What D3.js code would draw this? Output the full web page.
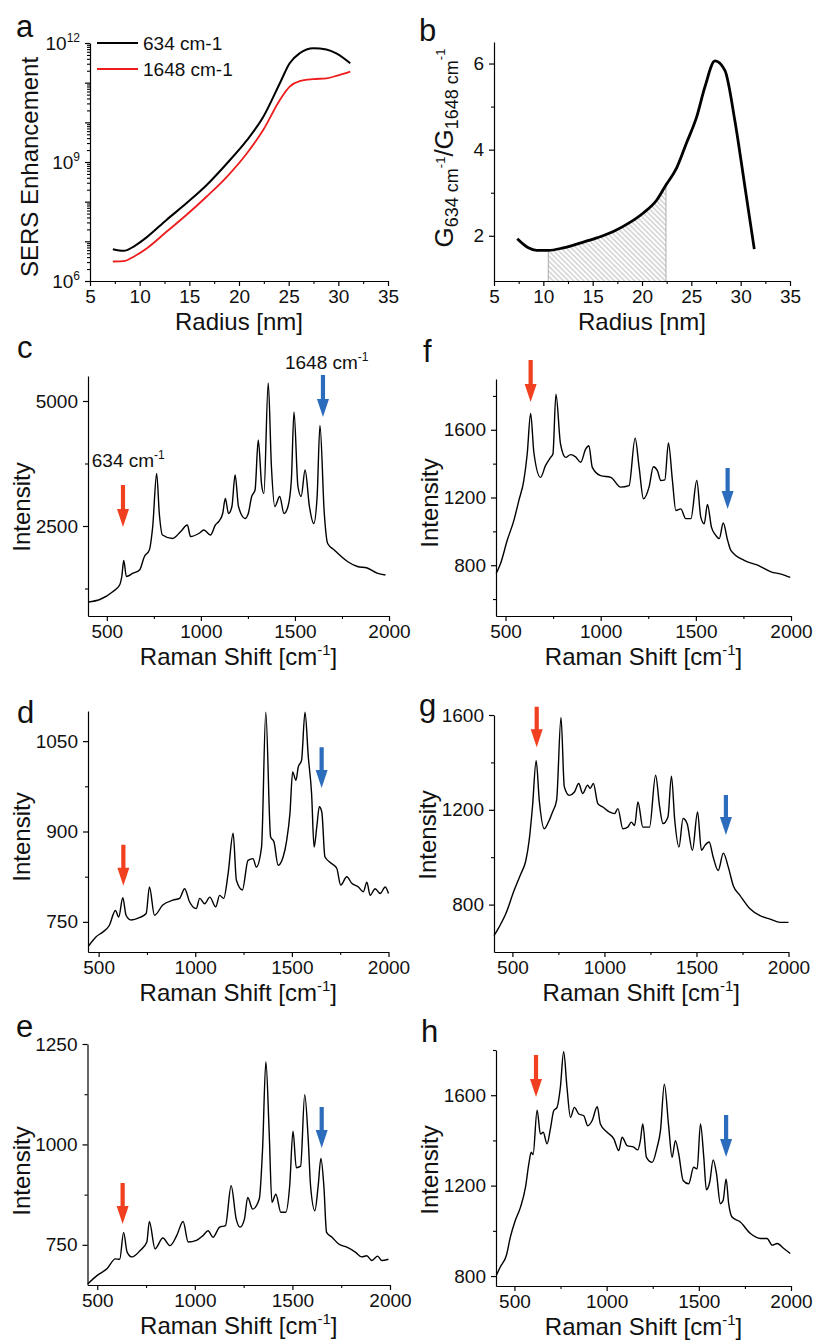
<!DOCTYPE html>
<html>
<head>
<meta charset="utf-8">
<script src="https://cdn.jsdelivr.net/npm/d3@7"></script>
<style>
  body { margin: 0; background: #fff; }
  text { font-family: "Liberation Sans", Arial, sans-serif; }
</style>
</head>
<body>
<svg id="fig" width="813" height="1343"></svg>
<script>
// ---------- data ----------
// panel a: SERS enhancement vs radius
var radiusA = [7.3, 8.4, 9.4, 10.7, 12.7, 14.7, 16.75, 18.8, 20.8, 22.45, 24.1, 25.1, 26.1, 27.5, 28.8, 29.8, 31.2];
var sers634 = [6.3e6, 5.75e6, 7.4e6, 1.26e7, 3.47e7, 9.1e7, 2.63e8, 9.3e8, 3.55e9, 1.38e10, 9.5e10, 3.1e11, 5.5e11, 7.4e11, 6.9e11, 5.5e11, 3.1e11];
var sers1648 = [3.1e6, 3.16e6, 4.1e6, 6.6e6, 1.74e7, 4.6e7, 1.35e8, 4.3e8, 1.66e9, 6.5e9, 3.6e10, 7.9e10, 1.1e11, 1.23e11, 1.29e11, 1.48e11, 1.9e11];
var legendA = ["634 cm-1", "1648 cm-1"];

// panel b: ratio G634/G1648 vs radius
var radiusB = [7.36, 8.48, 9.32, 10.5, 12.02, 13.71, 15.4, 17.1, 18.78, 20.13, 21.5, 22.43, 23.5, 24.5, 25.54, 26.38, 27.4, 28.4, 29.4, 30.43, 31.38];
var ratioB = [1.93, 1.72, 1.66, 1.66, 1.72, 1.83, 1.95, 2.10, 2.31, 2.53, 2.83, 3.18, 3.57, 4.15, 4.76, 5.46, 6.06, 5.84, 4.69, 3.14, 1.69];
var hatchRange = [10.5, 22.43];

// spectra [Raman shift, intensity]
var specC = [[402,980],[463,1030],[533,1190],[568,1320],[580,1500],[590,1810],[604,1490],[639,1556],[674,1620],[700,1890],[726,2020],[744,2490],[765,3550],[779,2750],[796,2320],[849,2250],[893,2390],[928,2520],[945,2290],[989,2350],[1016,2420],[1051,2320],[1077,2520],[1095,2590],[1116,2750],[1130,3050],[1147,2750],[1165,2890],[1182,3520],[1200,2890],[1235,2650],[1252,2750],[1270,3090],[1288,3220],[1305,4220],[1323,3320],[1335,3150],[1358,5360],[1375,3690],[1393,2890],[1419,3090],[1442,2750],[1463,2890],[1481,3420],[1495,4780],[1516,3290],[1533,3090],[1554,3620],[1577,2890],[1600,2550],[1618,3090],[1633,4510],[1656,2750],[1674,2150],[1709,2020],[1779,1790],[1832,1690],[1884,1660],[1937,1556],[1981,1520]];
var specF = [[451,751],[474,810],[509,947],[544,1065],[570,1182],[596,1300],[614,1457],[632,1696],[649,1466],[684,1319],[710,1388],[737,1437],[749,1457],[765,1810],[789,1516],[816,1437],[842,1453],[868,1440],[895,1408],[921,1486],[938,1506],[956,1378],[1000,1329],[1053,1319],[1105,1261],[1149,1270],[1181,1551],[1202,1378],[1225,1192],[1254,1261],[1277,1382],[1298,1359],[1316,1300],[1337,1304],[1356,1522],[1377,1300],[1395,1123],[1421,1133],[1447,1075],[1474,1075],[1505,1300],[1526,1084],[1544,1045],[1561,1159],[1582,1025],[1605,976],[1623,957],[1644,1049],[1667,947],[1684,888],[1754,829],[1825,800],[1895,761],[1947,747],[1996,728]];
var specD = [[448,710],[486,725],[521,733],[555,744],[587,769],[604,758],[625,790],[642,761],[668,753],[711,757],[746,764],[763,808],[789,761],[832,778],[884,786],[919,789],[945,805],[971,783],[1005,772],[1023,789],[1049,780],[1075,791],[1106,775],[1126,794],[1147,789],[1170,830],[1196,897],[1213,819],[1244,803],[1273,852],[1299,855],[1316,841],[1343,874],[1365,1098],[1390,891],[1407,883],[1429,844],[1455,858],[1473,885],[1490,930],[1504,999],[1521,985],[1533,1007],[1550,1018],[1568,1098],[1585,1024],[1602,963],[1615,874],[1629,908],[1642,941],[1655,932],[1671,858],[1697,849],[1732,839],[1753,811],[1784,825],[1810,814],[1844,808],[1870,800],[1888,816],[1905,794],[1931,805],[1957,797],[1983,808],[2000,797]];
var specG = [[400,669],[427,704],[464,761],[509,859],[546,930],[573,986],[591,1071],[609,1212],[629,1407],[646,1240],[673,1120],[700,1156],[718,1191],[740,1240],[764,1590],[782,1297],[809,1261],[837,1275],[860,1311],[882,1269],[909,1304],[922,1290],[940,1311],[964,1226],[991,1212],[1027,1191],[1055,1184],[1073,1205],[1100,1120],[1127,1127],[1146,1148],[1164,1134],[1182,1233],[1209,1127],[1245,1127],[1278,1346],[1300,1212],[1318,1142],[1345,1170],[1364,1342],[1382,1156],[1405,1043],[1427,1163],[1449,1142],[1478,1029],[1506,1191],[1527,1029],[1546,1050],[1569,1064],[1591,1000],[1618,944],[1646,1017],[1673,958],[1700,880],[1737,838],[1791,782],[1845,753],[1900,739],[1955,725],[2000,725]];
var specE = [[452,653],[500,674],[551,691],[593,715],[615,714],[635,781],[653,732],[678,720],[720,736],[754,757],[767,808],[796,740],[836,767],[873,748],[907,773],[940,808],[966,757],[1008,761],[1042,773],[1068,785],[1093,769],[1127,794],[1157,798],[1186,897],[1212,814],[1232,794],[1254,814],[1271,868],[1296,839],[1330,864],[1347,988],[1364,1206],[1381,1029],[1395,856],[1415,876],[1441,831],[1466,831],[1486,897],[1503,1033],[1520,942],[1542,946],[1563,1124],[1581,1012],[1593,897],[1615,835],[1632,897],[1646,965],[1661,897],[1675,781],[1703,769],[1737,752],[1779,744],[1822,732],[1856,720],[1881,723],[1907,711],[1937,722],[1958,711],[1992,714]];
var specH = [[402,804],[424,841],[457,893],[478,973],[505,1047],[533,1105],[560,1193],[578,1296],[591,1348],[601,1337],[623,1534],[641,1428],[656,1436],[677,1385],[695,1451],[713,1531],[731,1546],[749,1634],[767,1792],[785,1634],[804,1502],[825,1546],[849,1517],[876,1509],[898,1465],[921,1487],[949,1549],[966,1473],[1003,1436],[1039,1407],[1066,1355],[1084,1414],[1111,1377],[1147,1370],[1169,1358],[1183,1399],[1196,1473],[1216,1325],[1247,1303],[1274,1370],[1292,1443],[1313,1649],[1337,1458],[1355,1325],[1373,1399],[1391,1340],[1415,1223],[1445,1208],[1472,1281],[1491,1274],[1509,1473],[1527,1325],[1541,1182],[1559,1215],[1578,1314],[1596,1252],[1617,1120],[1632,1135],[1648,1230],[1662,1120],[1680,1061],[1725,1039],[1780,988],[1834,966],[1870,966],[1898,937],[1925,944],[1961,922],[1996,900]];

// arrows: [shift, top intensity, tip intensity]
var redArrows = { c: [586, 3320, 2480], f: [632, 2012, 1764], d: [628, 878, 810], g: [632, 1635, 1464], e: [630, 904, 802], h: [617, 1778, 1592] };
var blueArrows = { c: [1649, 5520, 4680], f: [1667, 1374, 1132], d: [1654, 1040, 972], g: [1660, 1262, 1094], e: [1650, 1093, 991], h: [1648, 1512, 1327] };
// peak labels in panel c: [text, shift, intensity]
var peakLabels = [["634 cm", 420, 3686], ["1648 cm", 1447, 5634]];

var shiftMajor = [500, 1000, 1500, 2000];
var shiftMinor = [750, 1250, 1750];
var radiusMajor = [5, 10, 15, 20, 25, 30, 35];
var radiusMinor = [7.5, 12.5, 17.5, 22.5, 27.5, 32.5];

// ---------- drawing ----------
var FONT = '"Liberation Sans", Arial, sans-serif';
var RED = "#f1401f", BLUE = "#2c6cbc";
var svg = d3.select("#fig");

function styleAxis(sel) {
  sel.attr("font-family", FONT).attr("font-size", 19);
  sel.selectAll("path.domain").attr("stroke-width", 1.2);
  sel.selectAll(".tick line").attr("stroke-width", 1.2);
  sel.selectAll(".tick text").attr("fill", "#111");
}

function minorAxis(g, axisFn, scale, values, transform) {
  g.append("g").attr("transform", transform)
    .call(axisFn(scale).tickValues(values).tickSize(3).tickFormat(function () { return ""; }))
    .call(function (s) { s.select(".domain").remove(); s.selectAll("line").attr("stroke-width", 1.1); });
}

function drawAxes(x, y, o) {
  var g = svg.append("g");
  var yb = y.range()[0], xl = x.range()[0];
  if (o.xMinor) minorAxis(g, d3.axisBottom, x, o.xMinor, "translate(0," + yb + ")");
  if (o.yMinor) minorAxis(g, d3.axisLeft, y, o.yMinor, "translate(" + xl + ",0)");
  g.append("g").attr("transform", "translate(0," + yb + ")")
    .call(d3.axisBottom(x).tickValues(o.xMajor).tickSize(5).tickPadding(4).tickSizeOuter(0).tickFormat(d3.format("d")))
    .call(styleAxis);
  var ya = d3.axisLeft(y).tickValues(o.yMajor).tickSize(5).tickPadding(5).tickSizeOuter(0)
    .tickFormat(o.yFormat || d3.format("d"));
  var yg = g.append("g").attr("transform", "translate(" + xl + ",0)").call(ya).call(styleAxis);
  return yg;
}

function xTitle(cx, y, label, sup) {
  var t = svg.append("text").attr("x", cx).attr("y", y).attr("text-anchor", "middle")
    .attr("font-size", 24).attr("fill", "#111");
  t.append("tspan").text(label);
  if (sup) {
    t.append("tspan").attr("font-size", 15).attr("dy", -10).text("-1");
    t.append("tspan").attr("dy", 10).text("]");
  }
}

function yTitle(x, cy, label) {
  svg.append("text").attr("transform", "translate(" + x + "," + cy + ") rotate(-90)")
    .attr("text-anchor", "middle").attr("font-size", 24).attr("fill", "#111").text(label);
}

function letter(x, y, l) {
  svg.append("text").attr("x", x).attr("y", y).attr("font-size", 31).attr("fill", "#111").text(l);
}

// ----- panel a -----
var xa = d3.scaleLinear().domain([5, 35]).range([90, 388]);
var ya = d3.scaleLog().domain([1e6, 1e12]).range([281, 43]);
var logMinor = [];
for (var e = 6; e < 12; e++) for (var m = 2; m <= 9; m++) logMinor.push(m * Math.pow(10, e));
var ag = svg.append("g");
minorAxis(ag, d3.axisLeft, ya, logMinor, "translate(90,0)");
ag.append("g").attr("transform", "translate(90,0)")
  .call(d3.axisLeft(ya).tickValues([1e7, 1e8, 1e10, 1e11]).tickSize(5).tickFormat(function () { return ""; }))
  .call(function (s) { s.select(".domain").remove(); s.selectAll("line").attr("stroke-width", 1.2); });
var aY = drawAxes(xa, ya, { xMajor: radiusMajor, xMinor: radiusMinor, yMajor: [1e6, 1e9, 1e12], yFormat: function () { return ""; } });
aY.selectAll(".tick text").each(function (d) {
  var t = d3.select(this);
  t.append("tspan").text("10");
  t.append("tspan").attr("font-size", 12).attr("dy", -8).text(Math.round(Math.log10(d)));
});
var lineA = d3.line().x(function (d) { return xa(d[0]); }).y(function (d) { return ya(d[1]); }).curve(d3.curveMonotoneX);
svg.append("path").datum(d3.zip(radiusA, sers1648)).attr("d", lineA).attr("fill", "none").attr("stroke", "#ee1c1c").attr("stroke-width", 1.8);
svg.append("path").datum(d3.zip(radiusA, sers634)).attr("d", lineA).attr("fill", "none").attr("stroke", "#000").attr("stroke-width", 2);
// legend
[["#000", 43], ["#ee1c1c", 69]].forEach(function (l, i) {
  svg.append("line").attr("x1", 97).attr("x2", 138).attr("y1", l[1]).attr("y2", l[1]).attr("stroke", l[0]).attr("stroke-width", 2);
  svg.append("text").attr("x", 143).attr("y", l[1]).attr("dy", "0.35em").attr("font-size", 19).attr("fill", "#111").text(legendA[i]);
});
letter(16, 37, "a");
xTitle(239, 330, "Radius [nm]");
yTitle(38, 167, "SERS Enhancement");

// ----- panel b -----
var xb = d3.scaleLinear().domain([5, 35]).range([494, 790]);
var yb = d3.scaleLinear().domain([0.95, 6.5]).range([281, 42]);
var defs = svg.append("defs");
defs.append("pattern").attr("id", "hatch").attr("patternUnits", "userSpaceOnUse")
  .attr("width", 3.6).attr("height", 3.6).attr("patternTransform", "rotate(45)")
  .append("line").attr("x1", 0).attr("x2", 3.6).attr("y1", 1.8).attr("y2", 1.8)
  .attr("stroke", "#8a8a8a").attr("stroke-width", 0.6);
var ratioPts = d3.zip(radiusB, ratioB);
var hatchPts = ratioPts.filter(function (d) { return d[0] >= hatchRange[0] && d[0] <= hatchRange[1]; });
svg.append("path").datum(hatchPts)
  .attr("d", d3.area().x(function (d) { return xb(d[0]); }).y0(yb.range()[0]).y1(function (d) { return yb(d[1]); }).curve(d3.curveMonotoneX))
  .attr("fill", "url(#hatch)");
[hatchPts[0], hatchPts[hatchPts.length - 1]].forEach(function (d) {
  svg.append("line").attr("x1", xb(d[0])).attr("x2", xb(d[0])).attr("y1", yb(d[1])).attr("y2", yb.range()[0])
    .attr("stroke", "#999").attr("stroke-width", 0.8);
});
drawAxes(xb, yb, { xMajor: radiusMajor, xMinor: radiusMinor, yMajor: [2, 4, 6], yMinor: [3, 5] });
svg.append("path").datum(ratioPts)
  .attr("d", d3.line().x(function (d) { return xb(d[0]); }).y(function (d) { return yb(d[1]); }).curve(d3.curveMonotoneX))
  .attr("fill", "none").attr("stroke", "#000").attr("stroke-width", 2.8).attr("stroke-linejoin", "round");
letter(419, 41, "b");
xTitle(642, 330, "Radius [nm]");
var bt = svg.append("text").attr("transform", "translate(453,148) rotate(-90)")
  .attr("text-anchor", "middle").attr("font-size", 26).attr("fill", "#111");
bt.append("tspan").text("G");
bt.append("tspan").attr("font-size", 18).attr("dy", 5).text("634 cm");
bt.append("tspan").attr("font-size", 13).attr("dy", -13).text("-1");
bt.append("tspan").attr("dy", 8).text("/G");
bt.append("tspan").attr("font-size", 18).attr("dy", 5).text("1648 cm");
bt.append("tspan").attr("font-size", 13).attr("dy", -13).text("-1");

// ----- spectra -----
var spectra = [
  { id: "c", data: specC, xDom: [400, 2000], yDom: [700, 5500], box: [88, 389, 376, 616], yMajor: [2500, 5000], yMinor: [1250, 3750], lx: 17, ly: 358, ty: 507 },
  { id: "f", data: specF, xDom: [450, 2000], yDom: [500, 1900], box: [496, 791, 379, 616], yMajor: [800, 1200, 1600], yMinor: [600, 1000, 1400, 1800], lx: 423, ly: 362, ty: 503 },
  { id: "d", data: specD, xDom: [445, 2000], yDom: [700, 1100], box: [88, 388.5, 711, 952], yMajor: [750, 900, 1050], yMinor: [825, 975], lx: 17, ly: 723, ty: 837 },
  { id: "g", data: specG, xDom: [400, 2000], yDom: [600, 1600], box: [494, 788.5, 715, 952], yMajor: [800, 1200, 1600], yMinor: [1000, 1400], lx: 419, ly: 716, ty: 835 },
  { id: "e", data: specE, xDom: [450, 2000], yDom: [650, 1250], box: [87.5, 390, 1044, 1285], yMajor: [750, 1000, 1250], yMinor: [875, 1125], lx: 16, ly: 1037, ty: 1171 },
  { id: "h", data: specH, xDom: [400, 2000], yDom: [756, 1800], box: [496, 791, 1050, 1286], yMajor: [800, 1200, 1600], yMinor: [1000, 1400, 1800], lx: 421, ly: 1042, ty: 1170 }
];

function arrow(x, y, a, color) {
  var xc = x(a[0]), y0 = y(a[1]), y1 = y(a[2]);
  var hw = 6, sw = 2.1, hh = 18;
  var p = d3.path();
  p.moveTo(xc - sw, y0); p.lineTo(xc + sw, y0); p.lineTo(xc + sw, y1 - hh); p.lineTo(xc + hw, y1 - hh);
  p.lineTo(xc, y1); p.lineTo(xc - hw, y1 - hh); p.lineTo(xc - sw, y1 - hh); p.closePath();
  svg.append("path").attr("d", p.toString()).attr("fill", color);
}

spectra.forEach(function (s) {
  var x = d3.scaleLinear().domain(s.xDom).range([s.box[0], s.box[1]]);
  var y = d3.scaleLinear().domain(s.yDom).range([s.box[3], s.box[2]]);
  drawAxes(x, y, { xMajor: shiftMajor, xMinor: shiftMinor, yMajor: s.yMajor, yMinor: s.yMinor });
  svg.append("path").datum(s.data)
    .attr("d", d3.line().x(function (d) { return x(d[0]); }).y(function (d) { return y(d[1]); }).curve(d3.curveMonotoneX))
    .attr("fill", "none").attr("stroke", "#000").attr("stroke-width", 1.4).attr("stroke-linejoin", "round");
  arrow(x, y, redArrows[s.id], RED);
  arrow(x, y, blueArrows[s.id], BLUE);
  letter(s.lx, s.ly, s.id);
  xTitle((s.box[0] + s.box[1]) / 2, s.box[3] + 49, "Raman Shift [cm", true);
  yTitle(s.box[0] - 58, s.ty, "Intensity");
  if (s.id === "c") {
    peakLabels.forEach(function (p) {
      var t = svg.append("text").attr("x", x(p[1])).attr("y", y(p[2])).attr("font-size", 19).attr("fill", "#111");
      t.append("tspan").text(p[0]);
      t.append("tspan").attr("font-size", 12).attr("dy", -8).text("-1");
    });
  }
});
</script>
</body>
</html>
